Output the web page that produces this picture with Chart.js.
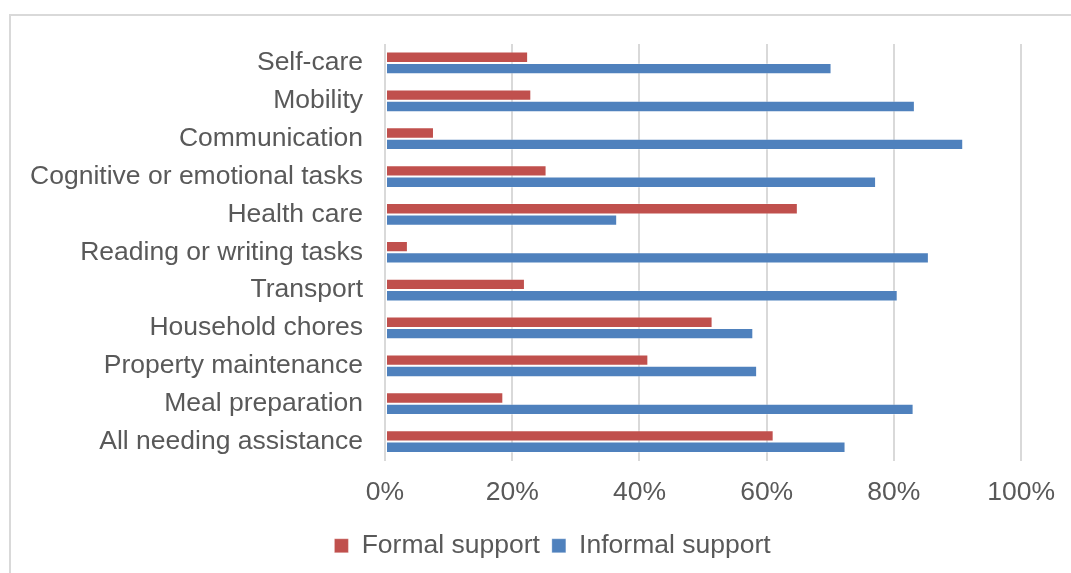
<!DOCTYPE html>
<html>
<head>
<meta charset="utf-8">
<script src="https://cdn.jsdelivr.net/npm/chart.js@4.4.0/dist/chart.umd.min.js"></script>
<style>
  html, body { margin: 0; padding: 0; background: #fff; }
  body { width: 1071px; height: 573px; overflow: hidden; position: relative; }
  #frame { position: absolute; left: 9px; top: 14px; width: 1100px; height: 600px; border: 2px solid #d9d9d9; box-sizing: border-box; }
  #wrap { position: absolute; left: 0; top: 0; width: 1071px; height: 573px; }
</style>
</head>
<body>
<div id="frame"></div>
<div id="wrap"><canvas id="chart"></canvas></div>
<script>
const categories = ["Self-care", "Mobility", "Communication", "Cognitive or emotional tasks", "Health care",
  "Reading or writing tasks", "Transport", "Household chores", "Property maintenance", "Meal preparation",
  "All needing assistance"];
const formalSupport = [22.5, 23.0, 7.7, 25.4, 64.9, 3.6, 22.0, 51.5, 41.4, 18.6, 61.1];
const informalSupport = [70.2, 83.3, 90.9, 77.2, 36.5, 85.5, 80.6, 57.9, 58.5, 83.1, 72.4];
const tickValues = [0, 20, 40, 60, 80, 100];

const font = { family: "'Liberation Sans', Arial, sans-serif", size: 26.5 };

// nudge the legend to the right, like the original
const legendShift = {
  id: "legendShift",
  afterLayout(chart) {
    chart.legend.left += 39;
    chart.legend.right += 39;
  }
};

const ctx = document.getElementById("chart").getContext("2d");
new Chart(ctx, {
  type: "bar",
  data: {
    labels: categories,
    datasets: [
      { label: "Formal support", data: formalSupport, backgroundColor: "#C0504D",
        borderColor: "rgba(255,255,255,0.3)", borderWidth: 1, borderSkipped: false },
      { label: "Informal support", data: informalSupport, backgroundColor: "#4F81BD",
        borderColor: "rgba(255,255,255,0.3)", borderWidth: 1, borderSkipped: false }
    ]
  },
  options: {
    indexAxis: "y",
    responsive: true,
    maintainAspectRatio: false,
    animation: false,
    layout: { padding: { top: 44, right: 44, left: 0, bottom: 4 } },
    datasets: { bar: { categoryPercentage: 0.6, barPercentage: 1 } },
    scales: {
      x: {
        min: 0, max: 100,
        afterBuildTicks: axis => { axis.ticks = tickValues.map(v => ({ value: v })); },
        ticks: { color: "#595959", font: font, padding: 16, callback: v => v + "%" },
        grid: { color: "#d9d9d9", lineWidth: 2, drawTicks: false },
        border: { display: false },
        afterFit: axis => { axis.height = 60; }
      },
      y: {
        ticks: { color: "#595959", font: font, padding: 22 },
        grid: { display: false, drawTicks: false },
        border: { display: false },
        afterFit: axis => { axis.width = 385; }
      }
    },
    plugins: {
      legend: {
        position: "bottom",
        labels: { color: "#595959", font: font, boxWidth: 14, boxHeight: 14, padding: 12, useBorderRadius: false }
      },
      tooltip: { enabled: false }
    }
  },
  plugins: [legendShift]
});
</script>
</body>
</html>
